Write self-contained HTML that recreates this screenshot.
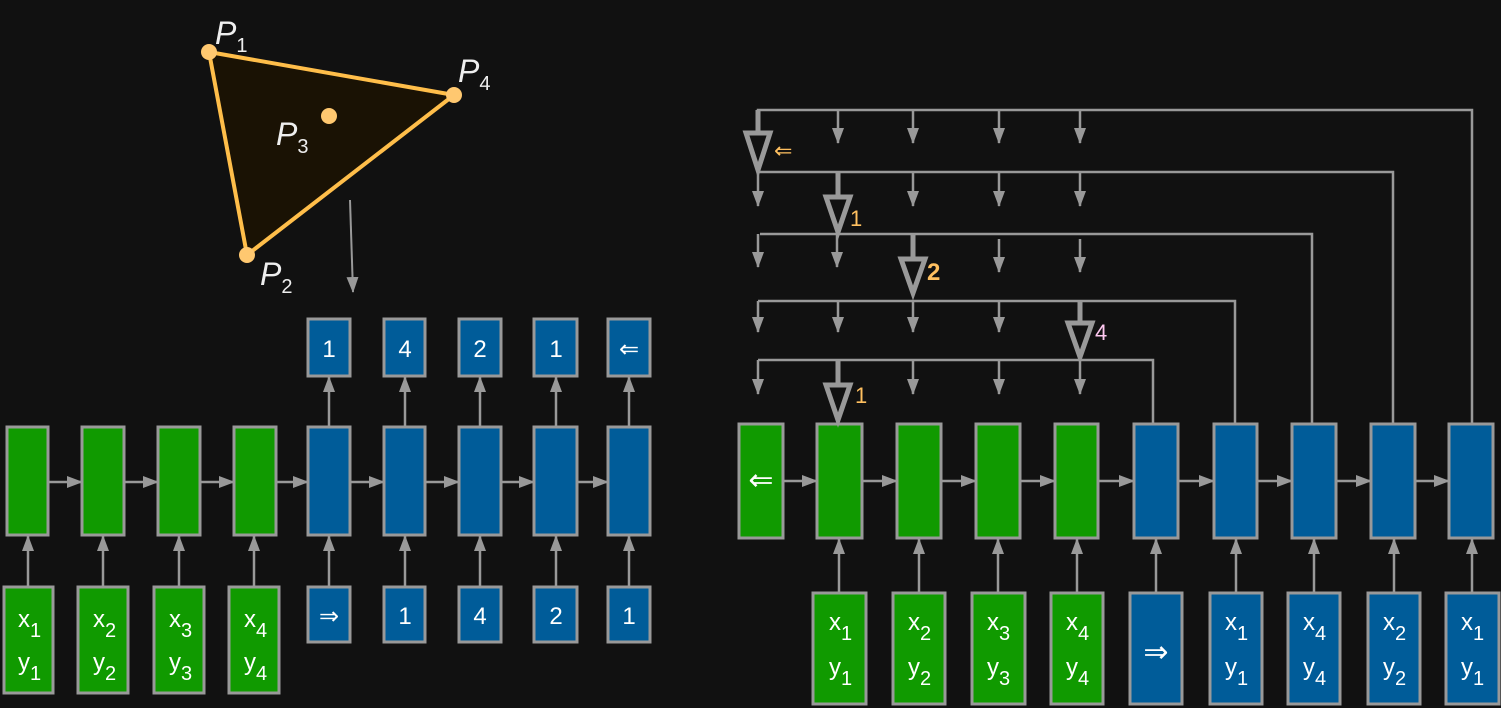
<!DOCTYPE html>
<html><head><meta charset="utf-8"><style>
html,body{margin:0;padding:0;background:#111111;}
svg{display:block;}
text{font-family:"Liberation Sans",sans-serif;fill:#fff;}
</style></head><body>
<svg width="1501" height="708" viewBox="0 0 1501 708" xmlns="http://www.w3.org/2000/svg">
<defs>
<marker id="a" markerWidth="16" markerHeight="12" refX="15" refY="6" orient="auto" markerUnits="userSpaceOnUse"><path d="M0,0 L16,6 L0,12z" fill="#999"/></marker>
</defs>
<rect width="1501" height="708" fill="#111"/>

<!-- triangle -->
<polygon points="209,52 454,95 247,255" fill="#1a1204" stroke="#ffbe4a" stroke-width="4" stroke-linejoin="round"/>
<g fill="#ffc870"><circle cx="209" cy="52" r="8"/><circle cx="454" cy="95" r="8"/><circle cx="247" cy="255" r="8"/><circle cx="329" cy="116" r="8"/></g>
<g style="font-family:'Liberation Serif',serif;font-style:italic;font-size:32px;fill:#eee">
<text x="215" y="44" style="fill:#eee">P<tspan style="font-style:normal;font-size:20px" dy="8">1</tspan></text>
<text x="458" y="82" style="fill:#eee">P<tspan style="font-style:normal;font-size:20px" dy="8">4</tspan></text>
<text x="276" y="145" style="fill:#eee">P<tspan style="font-style:normal;font-size:20px" dy="8">3</tspan></text>
<text x="260" y="285" style="fill:#eee">P<tspan style="font-style:normal;font-size:20px" dy="8">2</tspan></text>
</g>
<line x1="350" y1="200" x2="353" y2="292" stroke="#999" stroke-width="2" marker-end="url(#a)"/>

<g stroke="#999" stroke-width="3">
<!-- LEFT mid boxes -->
<rect x="7" y="427" width="41" height="108" fill="#109a00"/>
<rect x="82" y="427" width="42" height="108" fill="#109a00"/>
<rect x="158" y="427" width="42" height="108" fill="#109a00"/>
<rect x="234" y="427" width="42" height="108" fill="#109a00"/>
<rect x="308" y="427" width="42" height="108" fill="#005c99"/>
<rect x="384" y="427" width="41" height="108" fill="#005c99"/>
<rect x="459" y="427" width="42" height="108" fill="#005c99"/>
<rect x="534" y="427" width="43" height="108" fill="#005c99"/>
<rect x="608" y="427" width="42" height="108" fill="#005c99"/>
<!-- top outputs -->
<rect x="308" y="319" width="42" height="57" fill="#005c99"/>
<rect x="384" y="319" width="41" height="57" fill="#005c99"/>
<rect x="459" y="319" width="42" height="57" fill="#005c99"/>
<rect x="534" y="319" width="43" height="57" fill="#005c99"/>
<rect x="608" y="319" width="42" height="57" fill="#005c99"/>
<!-- bottom inputs -->
<rect x="4" y="587" width="49" height="106" fill="#109a00"/>
<rect x="78" y="587" width="50" height="106" fill="#109a00"/>
<rect x="154" y="587" width="50" height="106" fill="#109a00"/>
<rect x="229" y="587" width="50" height="106" fill="#109a00"/>
<rect x="308" y="587" width="42" height="55" fill="#005c99"/>
<rect x="384" y="587" width="41" height="55" fill="#005c99"/>
<rect x="459" y="587" width="42" height="55" fill="#005c99"/>
<rect x="534" y="587" width="43" height="55" fill="#005c99"/>
<rect x="608" y="587" width="42" height="55" fill="#005c99"/>

<!-- RIGHT mid boxes -->
<rect x="739" y="424" width="44" height="114" fill="#109a00"/>
<rect x="817" y="424" width="45" height="114" fill="#109a00"/>
<rect x="897" y="424" width="44" height="114" fill="#109a00"/>
<rect x="976" y="424" width="44" height="114" fill="#109a00"/>
<rect x="1055" y="424" width="43" height="114" fill="#109a00"/>
<rect x="1134" y="424" width="44" height="114" fill="#005c99"/>
<rect x="1214" y="424" width="43" height="114" fill="#005c99"/>
<rect x="1292" y="424" width="44" height="114" fill="#005c99"/>
<rect x="1371" y="424" width="44" height="114" fill="#005c99"/>
<rect x="1449" y="424" width="44" height="114" fill="#005c99"/>
<!-- right bottom -->
<rect x="813" y="593" width="53" height="111" fill="#109a00"/>
<rect x="893" y="593" width="52" height="111" fill="#109a00"/>
<rect x="972" y="593" width="53" height="111" fill="#109a00"/>
<rect x="1051" y="593" width="52" height="111" fill="#109a00"/>
<rect x="1130" y="593" width="52" height="111" fill="#005c99"/>
<rect x="1210" y="593" width="52" height="111" fill="#005c99"/>
<rect x="1288" y="593" width="52" height="111" fill="#005c99"/>
<rect x="1368" y="593" width="52" height="111" fill="#005c99"/>
<rect x="1446" y="593" width="53" height="111" fill="#005c99"/>
</g>

<g stroke="#999" stroke-width="2.5" fill="none" marker-end="url(#a)">
<!-- left horizontal -->
<line x1="48" y1="482" x2="82" y2="482"/><line x1="124" y1="482" x2="158" y2="482"/>
<line x1="200" y1="482" x2="234" y2="482"/><line x1="276" y1="482" x2="308" y2="482"/>
<line x1="350" y1="482" x2="384" y2="482"/><line x1="425" y1="482" x2="459" y2="482"/>
<line x1="501" y1="482" x2="534" y2="482"/><line x1="577" y1="482" x2="608" y2="482"/>
<!-- left up bottom -->
<line x1="28" y1="587" x2="28" y2="536"/><line x1="103" y1="587" x2="103" y2="536"/>
<line x1="179" y1="587" x2="179" y2="536"/><line x1="254" y1="587" x2="254" y2="536"/>
<line x1="329" y1="587" x2="329" y2="536"/><line x1="405" y1="587" x2="405" y2="536"/>
<line x1="480" y1="587" x2="480" y2="536"/><line x1="556" y1="587" x2="556" y2="536"/>
<line x1="629" y1="587" x2="629" y2="536"/>
<!-- left up top -->
<line x1="329" y1="427" x2="329" y2="377"/><line x1="405" y1="427" x2="405" y2="377"/>
<line x1="480" y1="427" x2="480" y2="377"/><line x1="556" y1="427" x2="556" y2="377"/>
<line x1="629" y1="427" x2="629" y2="377"/>
<!-- right horizontal -->
<line x1="783" y1="481" x2="817" y2="481"/><line x1="862" y1="481" x2="897" y2="481"/>
<line x1="941" y1="481" x2="976" y2="481"/><line x1="1020" y1="481" x2="1055" y2="481"/>
<line x1="1098" y1="481" x2="1134" y2="481"/><line x1="1178" y1="481" x2="1214" y2="481"/>
<line x1="1257" y1="481" x2="1292" y2="481"/><line x1="1336" y1="481" x2="1371" y2="481"/>
<line x1="1415" y1="481" x2="1449" y2="481"/>
<!-- right up -->
<line x1="839" y1="593" x2="839" y2="539"/><line x1="919" y1="593" x2="919" y2="539"/>
<line x1="998" y1="593" x2="998" y2="539"/><line x1="1077" y1="593" x2="1077" y2="539"/>
<line x1="1156" y1="593" x2="1156" y2="539"/><line x1="1236" y1="593" x2="1236" y2="539"/>
<line x1="1314" y1="593" x2="1314" y2="539"/><line x1="1394" y1="593" x2="1394" y2="539"/>
<line x1="1472" y1="593" x2="1472" y2="539"/>
<!-- small down arrows level1 y110 -->
<line x1="838" y1="110" x2="838" y2="143"/><line x1="913" y1="110" x2="913" y2="143"/>
<line x1="999" y1="110" x2="999" y2="143"/><line x1="1080" y1="110" x2="1080" y2="143"/>
<!-- level2 y172 -->
<line x1="758" y1="172" x2="758" y2="206"/><line x1="913" y1="172" x2="913" y2="206"/>
<line x1="999" y1="172" x2="999" y2="206"/><line x1="1080" y1="172" x2="1080" y2="206"/>
<!-- level3 y234 -->
<line x1="758" y1="234" x2="758" y2="267"/><line x1="837" y1="234" x2="837" y2="267"/>
<line x1="999" y1="239" x2="999" y2="272"/><line x1="1080" y1="239" x2="1080" y2="272"/>
<!-- level4 y301 -->
<line x1="758" y1="301" x2="758" y2="332"/><line x1="838" y1="301" x2="838" y2="332"/>
<line x1="913" y1="301" x2="913" y2="332"/><line x1="999" y1="301" x2="999" y2="332"/>
<!-- level5 y360 -->
<line x1="758" y1="360" x2="758" y2="394"/><line x1="913" y1="360" x2="913" y2="394"/>
<line x1="999" y1="360" x2="999" y2="394"/><line x1="1080" y1="360" x2="1080" y2="394"/>
</g>

<!-- level lines -->
<g stroke="#999" stroke-width="2.5" fill="none">
<polyline points="758,130 758,110 1472,110 1472,424"/>
<polyline points="758,172 1393,172 1393,424"/>
<polyline points="760,234 1312,234 1312,424"/>
<polyline points="758,301 1235,301 1235,424"/>
<polyline points="758,360 1153,360 1153,424"/>
</g>
<!-- big hollow arrows -->
<g stroke="#999" stroke-width="5" fill="#111" stroke-linejoin="miter">
<line x1="758" y1="110" x2="758" y2="132"/><polygon points="746,133 770,133 758,170"/>
<line x1="838" y1="172" x2="838" y2="196"/><polygon points="826,197 850,197 838,232"/>
<line x1="913" y1="234" x2="913" y2="258"/><polygon points="901,259 925,259 913,293"/>
<line x1="1080" y1="301" x2="1080" y2="322"/><polygon points="1068,323 1092,323 1080,357"/>
<line x1="838" y1="360" x2="838" y2="384"/><polygon points="826,385 850,385 838,420"/>
</g>
<text x="774" y="158" style="fill:#ffc060;font-size:22px">⇐</text>
<text x="850" y="226" style="fill:#ffc060;font-size:22px">1</text>
<text x="927" y="280" style="fill:#ffc060;font-size:24px;font-weight:bold">2</text>
<text x="1095" y="340" style="fill:#ffc8f0;font-size:22px">4</text>
<text x="855" y="403" style="fill:#ffc060;font-size:22px">1</text>

<!-- left text -->
<g style="font-size:24px" text-anchor="middle">
<text x="329" y="357">1</text><text x="405" y="357">4</text><text x="480" y="357">2</text><text x="556" y="357">1</text><text x="629" y="357">⇐</text>
<text x="329" y="624">⇒</text><text x="405" y="624">1</text><text x="480" y="624">4</text><text x="556" y="624">2</text><text x="629" y="624">1</text>
<text x="761" y="490" style="font-size:30px">⇐</text>
<text x="1156" y="662" style="font-size:30px">⇒</text>
</g>
<g style="font-size:24px">
<text x="18" y="627">x<tspan dy="10" font-size="20">1</tspan></text><text x="18" y="670">y<tspan dy="10" font-size="20">1</tspan></text>
<text x="93" y="627">x<tspan dy="10" font-size="20">2</tspan></text><text x="93" y="670">y<tspan dy="10" font-size="20">2</tspan></text>
<text x="169" y="627">x<tspan dy="10" font-size="20">3</tspan></text><text x="169" y="670">y<tspan dy="10" font-size="20">3</tspan></text>
<text x="244" y="627">x<tspan dy="10" font-size="20">4</tspan></text><text x="244" y="670">y<tspan dy="10" font-size="20">4</tspan></text>

<text x="829" y="630">x<tspan dy="10" font-size="20">1</tspan></text><text x="829" y="675">y<tspan dy="10" font-size="20">1</tspan></text>
<text x="908" y="630">x<tspan dy="10" font-size="20">2</tspan></text><text x="908" y="675">y<tspan dy="10" font-size="20">2</tspan></text>
<text x="987" y="630">x<tspan dy="10" font-size="20">3</tspan></text><text x="987" y="675">y<tspan dy="10" font-size="20">3</tspan></text>
<text x="1066" y="630">x<tspan dy="10" font-size="20">4</tspan></text><text x="1066" y="675">y<tspan dy="10" font-size="20">4</tspan></text>
<text x="1225" y="630">x<tspan dy="10" font-size="20">1</tspan></text><text x="1225" y="675">y<tspan dy="10" font-size="20">1</tspan></text>
<text x="1303" y="630">x<tspan dy="10" font-size="20">4</tspan></text><text x="1303" y="675">y<tspan dy="10" font-size="20">4</tspan></text>
<text x="1383" y="630">x<tspan dy="10" font-size="20">2</tspan></text><text x="1383" y="675">y<tspan dy="10" font-size="20">2</tspan></text>
<text x="1461" y="630">x<tspan dy="10" font-size="20">1</tspan></text><text x="1461" y="675">y<tspan dy="10" font-size="20">1</tspan></text>
</g>
</svg>
</body></html>
